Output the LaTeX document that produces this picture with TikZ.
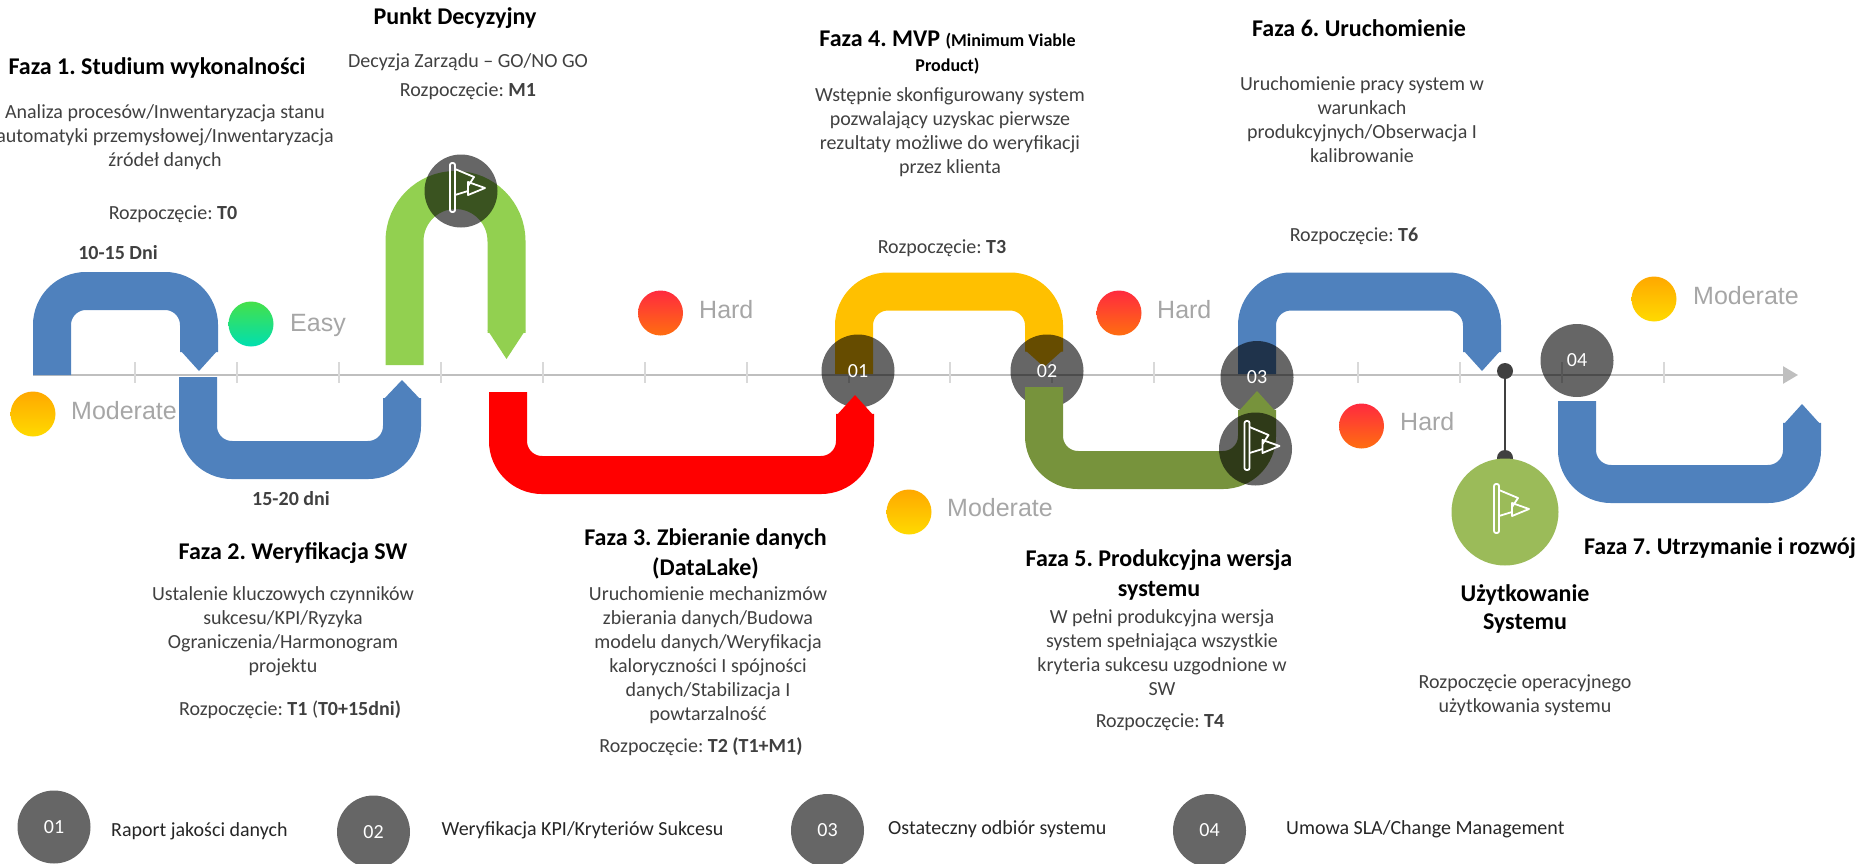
\documentclass[tikz,border=0pt]{standalone}
\usepackage{fontspec}
\setmainfont{Carlito}
\newfontfamily\ratefont{Liberation Sans}
\usetikzlibrary{arrows.meta}
\definecolor{pipeBlue}{HTML}{4F81BD}
\definecolor{pipeGreen}{HTML}{92D050}
\definecolor{pipeRed}{HTML}{FF0000}
\definecolor{pipeYellow}{HTML}{FFC000}
\definecolor{pipeOlive}{HTML}{77933C}
\definecolor{useGreen}{HTML}{9BBB59}
\definecolor{bodyGrey}{HTML}{404040}
\definecolor{axisGrey}{HTML}{BFBFBF}
\definecolor{tickGrey}{HTML}{D9D9D9}
\definecolor{rateGrey}{HTML}{A6A6A6}
\definecolor{spotGrey}{HTML}{666666}
\definecolor{modTop}{HTML}{FFA800}
\definecolor{modEnd}{HTML}{FFDA00}
\definecolor{hardTop}{HTML}{FF2A3F}
\definecolor{hardEnd}{HTML}{FF6E10}
\definecolor{easyTop}{HTML}{45E04A}
\definecolor{easyEnd}{HTML}{00DFB0}
\tikzset{
	pipeline/.style={line width=38pt, rounded corners=34pt},
	tickline/.style={line width=1.5pt, color=tickGrey},
	spot/.style={circle, minimum size=73pt, inner sep=0pt, fill=black, fill opacity=0.6, text opacity=1, text=white, font=\fontsize{20}{24}\selectfont},
	legendspot/.style={circle, minimum size=73pt, inner sep=0pt, fill=spotGrey, text=white, font=\fontsize{20}{24}\selectfont},
	rate/.style={circle, minimum size=45pt, inner sep=0pt},
	moderate/.style={rate, top color=modTop, bottom color=modEnd},
	hard/.style={rate, top color=hardTop, bottom color=hardEnd},
	ratetext/.style={anchor=west, text=rateGrey, inner sep=0pt, font=\ratefont\fontsize{25}{30}\selectfont},
	head/.style={align=center, inner sep=0pt, text=black, font=\bfseries\fontsize{24}{30}\selectfont},
	body/.style={align=center, inner sep=0pt, text=bodyGrey, font=\fontsize{20}{24}\selectfont},
	days/.style={inner sep=0pt, text=bodyGrey, font=\bfseries\fontsize{20}{24}\selectfont},
	legendtext/.style={anchor=west, inner sep=0pt, text=black!85, font=\fontsize{20}{24}\selectfont},
}
\def\bendpipe[#1](#2,#3)(#4,#5)(#6:#7){
	\draw[pipeline,#1] (#2,#3) -- (#2,#5) -- (#4,#5) -- (#4,{#6-0.1*(#6-#7)});
	\fill[#1,sharp corners] (#4-19,#6) -- (#4,#7) -- (#4+19,#6) -- cycle;
}
\def\flagicon(#1){
	\begin{scope}[shift={(#1)}, white, line width=1.8pt, line join=round]
		\draw[rounded corners=2pt] (-11,-28) rectangle (-6,21);
		\draw (-6,-22) -- (13,-14) -- (7,-5);
		\draw (7,-9) -- (24,-3) -- (7,4) -- cycle;
		\draw (-6,4) -- (7,0);
	\end{scope}
}

\begin{document}
\frenchspacing
\begin{tikzpicture}[x=1pt,y=-1pt]
	%%%%% START %%%%%
	\useasboundingbox (0,0) rectangle (1860,864);

	\coordinate (axisStart) at (33,375);
	\coordinate (axisEnd) at (1798,375);
	\draw[line width=2.5pt, color=axisGrey, -{Triangle[length=15pt,width=17pt]}] (axisStart) -- (axisEnd);

	\draw[tickline] (135,362) -- (135,383);
	\draw[tickline] (237,362) -- (237,383);
	\draw[tickline] (339,362) -- (339,383);
	\draw[tickline] (441,362) -- (441,383);
	\draw[tickline] (543,362) -- (543,383);
	\draw[tickline] (645,362) -- (645,383);
	\draw[tickline] (747,362) -- (747,383);
	\draw[tickline] (849,362) -- (849,383);
	\draw[tickline] (950,362) -- (950,383);
	\draw[tickline] (1052,362) -- (1052,383);
	\draw[tickline] (1154,362) -- (1154,383);
	\draw[tickline] (1256,362) -- (1256,383);
	\draw[tickline] (1358,362) -- (1358,383);
	\draw[tickline] (1460,362) -- (1460,383);
	\draw[tickline] (1562,362) -- (1562,383);
	\draw[tickline] (1664,362) -- (1664,383);

	\bendpipe[pipeBlue](52,375)(199,291)(350:371);
	\bendpipe[pipeBlue](198,377)(402,460)(400:380);
	\bendpipe[pipeGreen,rounded corners=51pt](404.5,365)(506.5,190)(330:359);
	\bendpipe[pipeYellow](854,374)(1044,291.5)(350:367);
	\bendpipe[pipeBlue](1257,374)(1482,291.5)(350:371);
	\bendpipe[pipeBlue](1577,401)(1802,484)(425:404);

	\node[spot] (gate) at (461,191) {};
	\flagicon(gate);
	\node[spot] (markA) at (858,371) {01};
	\node[spot] (markB) at (1047,371) {02};
	\node[spot] (markC) at (1257,377.5) {03};
	\node[spot] (markD) at (1577,360.5) {04};

	\bendpipe[pipeRed](508,392)(855,475)(416:395);
	\bendpipe[pipeOlive](1044,387)(1257,470)(412:391);

	\node[spot] (accept) at (1255.5,449) {};
	\flagicon(accept);

	\node[circle, fill=bodyGrey, minimum size=16pt, inner sep=0pt] (stemTop) at (1505,371) {};
	\node[circle, fill=bodyGrey, minimum size=16pt, inner sep=0pt] (stemEnd) at (1505,458) {};
	\draw[line width=2.5pt, color=bodyGrey] (stemTop) -- (stemEnd);
	\node[circle, fill=useGreen, minimum size=107pt, inner sep=0pt] (usage) at (1505,512) {};
	\flagicon(usage);

	\node[moderate] (rateA) at (33,414) {};
	\node[ratetext] (rateAtext) at (71,411) {Moderate};
	\node[rate, top color=easyTop, bottom color=easyEnd] (rateB) at (251,324) {};
	\node[ratetext] (rateBtext) at (290,325) {Easy};
	\node[hard] (rateC) at (660.5,313) {};
	\node[ratetext] (rateCtext) at (699,310) {Hard};
	\node[hard] (rateD) at (1119,313) {};
	\node[ratetext] (rateDtext) at (1157,310) {Hard};
	\node[hard] (rateE) at (1361.5,426) {};
	\node[ratetext] (rateEtext) at (1400,422) {Hard};
	\node[moderate] (rateF) at (909,512) {};
	\node[ratetext] (rateFtext) at (947,508) {Moderate};
	\node[moderate] (rateG) at (1654,299) {};
	\node[ratetext] (rateGtext) at (1693,296) {Moderate};

	\node[head] (phaseA) at (157,68) {Faza 1. Studium wykonalności};
	\node[body] (phaseAtext) at (165,137) {Analiza procesów/Inwentaryzacja stanu\\automatyki przemysłowej/Inwentaryzacja\\źródeł danych};
	\node[body] (phaseAstart) at (173,214) {Rozpoczęcie: \textbf{T0}};
	\node[days] (phaseAtime) at (118,253) {10-15 Dni};

	\node[head] (decision) at (455,18) {Punkt Decyzyjny};
	\node[body] (decisiontext) at (468,62) {Decyzja Zarządu -- GO/NO GO};
	\node[body] (decisionstart) at (468,91) {Rozpoczęcie: \textbf{M1}};

	\node[days] (phaseBtime) at (291,499) {15-20 dni};
	\node[head] (phaseB) at (293,553) {Faza 2. Weryfikacja SW};
	\node[body] (phaseBtext) at (283,631) {Ustalenie kluczowych czynników\\sukcesu/KPI/Ryzyka\\Ograniczenia/Harmonogram\\projektu};
	\node[body] (phaseBstart) at (290,710) {Rozpoczęcie: \textbf{T1} (\textbf{T0+15dni)}};

	\node[head] (phaseC) at (705.5,553.5) {Faza 3. Zbieranie danych\\(DataLake)};
	\node[body] (phaseCtext) at (708,655) {Uruchomienie mechanizmów\\zbierania danych/Budowa\\modelu danych/Weryfikacja\\kaloryczności I spójności\\danych/Stabilizacja I\\powtarzalność};
	\node[body] (phaseCstart) at (701,747) {Rozpoczęcie: \textbf{T2 (T1+M1)}};

	\node[head, font=\bfseries\fontsize{24}{25}\selectfont] (phaseD) at (947.5,52.5) {Faza 4. MVP {\fontsize{18}{25}\selectfont (Minimum Viable}\\{\fontsize{18}{25}\selectfont Product)}};
	\node[body] (phaseDtext) at (950,132) {Wstępnie skonfigurowany system\\pozwalający uzyskac pierwsze\\rezultaty możliwe do weryfikacji\\przez klienta};
	\node[body] (phaseDstart) at (942,248) {Rozpoczęcie: \textbf{T3}};

	\node[head] (phaseE) at (1159,575) {Faza 5. Produkcyjna wersja\\systemu};
	\node[body] (phaseEtext) at (1162,653) {W pełni produkcyjna wersja\\system spełniająca wszystkie\\kryteria sukcesu uzgodnione w\\SW};
	\node[body] (phaseEstart) at (1160,722) {Rozpoczęcie: \textbf{T4}};

	\node[head] (phaseF) at (1359,28) {Faza 6. Uruchomienie};
	\node[body] (phaseFtext) at (1362,119.5) {Uruchomienie pracy system w\\warunkach\\produkcyjnych/Obserwacja I\\kalibrowanie};
	\node[body] (phaseFstart) at (1354,236) {Rozpoczęcie: \textbf{T6}};

	\node[head] (phaseG) at (1720,548) {Faza 7. Utrzymanie i rozwój};
	\node[head, font=\bfseries\fontsize{24}{28}\selectfont] (usagehead) at (1525,609) {Użytkowanie\\Systemu};
	\node[body] (usagetext) at (1525,695) {Rozpoczęcie operacyjnego\\użytkowania systemu};

	\node[legendspot] (legendA) at (54,827) {01};
	\node[legendtext] (legendAtext) at (111,831) {Raport jakości danych};
	\node[legendspot] (legendB) at (373.5,832) {02};
	\node[legendtext] (legendBtext) at (441.5,830) {Weryfikacja KPI/Kryteriów Sukcesu};
	\node[legendspot] (legendC) at (827.5,830.5) {03};
	\node[legendtext] (legendCtext) at (888,829) {Ostateczny odbiór systemu};
	\node[legendspot] (legendD) at (1209.5,830.5) {04};
	\node[legendtext] (legendDtext) at (1286,829) {Umowa SLA/Change Management};

	%%%%% END %%%%%
\end{tikzpicture}
\end{document}
